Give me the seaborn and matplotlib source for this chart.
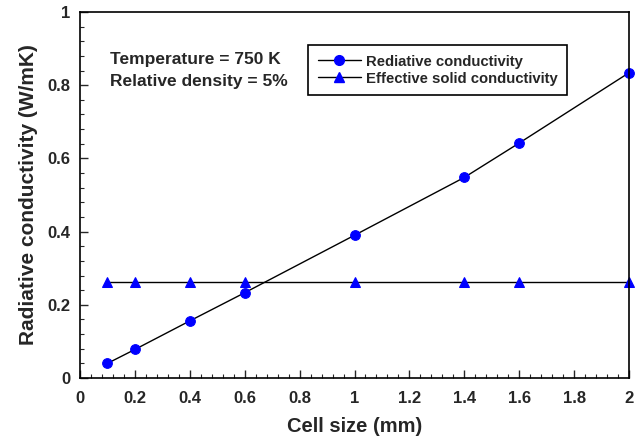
import matplotlib
matplotlib.use("Agg")
import matplotlib.pyplot as plt
import seaborn as sns
import pandas as pd
from matplotlib.ticker import MultipleLocator
from matplotlib.lines import Line2D

cell_size = [0.1, 0.2, 0.4, 0.6, 1.0, 1.4, 1.6, 2.0]
radiative = [0.040, 0.078, 0.156, 0.233, 0.390, 0.548, 0.642, 0.834]
solid = [0.262, 0.262, 0.262, 0.262, 0.262, 0.262, 0.262, 0.262]
series_names = ["Rediative conductivity", "Effective solid conductivity"]
x_ticks = [0, 0.2, 0.4, 0.6, 0.8, 1, 1.2, 1.4, 1.6, 1.8, 2]
x_ticklabels = ["0", "0.2", "0.4", "0.6", "0.8", "1", "1.2", "1.4", "1.6", "1.8", "2"]
y_ticks = [0, 0.2, 0.4, 0.6, 0.8, 1]
y_ticklabels = ["0", "0.2", "0.4", "0.6", "0.8", "1"]

sns.set_style("ticks")
plt.rcParams['font.family'] = ['Liberation Sans', 'DejaVu Sans']
plt.rcParams['font.weight'] = 'bold'

df = pd.DataFrame({
    "x": cell_size * 2,
    "y": radiative + solid,
    "s": [series_names[0]] * len(cell_size) + [series_names[1]] * len(cell_size),
})

fig = plt.figure(figsize=(6.38, 4.4), dpi=100)
ax = fig.add_axes([0.1254, 0.1409, 0.8605, 0.8318])

sns.lineplot(data=df, x="x", y="y", hue="s", style="s",
             palette=["black", "black"], dashes=False,
             markers=["o", "^"], markersize=7, linewidth=1,
             markerfacecolor="#0000ff", markeredgecolor="#0000ff",
             ax=ax, legend=False)
for ln in ax.lines:
    ln.set_clip_on(False)

handles = [Line2D([], [], color="black", lw=1, marker="o", ms=7, mfc="#0000ff", mec="#0000ff"),
           Line2D([], [], color="black", lw=1, marker="^", ms=7, mfc="#0000ff", mec="#0000ff")]
leg = ax.legend(handles, series_names, loc="upper left", bbox_to_anchor=(0.4155, 0.91),
                frameon=True, fancybox=False, edgecolor="black", framealpha=1,
                prop={'weight': 'bold', 'size': 10.7}, handlelength=2.9,
                borderpad=0.65, labelspacing=0.2, handletextpad=0.35, borderaxespad=0)
leg.get_frame().set_linewidth(1.2)

ax.set_xlim(0, 2)
ax.set_ylim(0, 1)
ax.set_xticks(x_ticks)
ax.set_xticklabels(x_ticklabels)
ax.set_yticks(y_ticks)
ax.set_yticklabels(y_ticklabels)
ax.xaxis.set_minor_locator(MultipleLocator(0.04))
ax.yaxis.set_minor_locator(MultipleLocator(0.04))
ax.tick_params(axis="both", which="major", direction="in", length=6, width=1,
               labelsize=12, top=False, right=False)
ax.tick_params(axis="x", which="major", pad=9)
ax.tick_params(axis="y", which="major", pad=7)
ax.tick_params(axis="both", which="minor", direction="in", length=3, width=0.8,
               top=False, right=False)
for lab in ax.get_xticklabels() + ax.get_yticklabels():
    lab.set_fontweight("bold")
for sp in ax.spines.values():
    sp.set_visible(True)
    sp.set_linewidth(1.2)
    sp.set_color("black")

ax.set_xlabel("Cell size (mm)", fontsize=14.5, fontweight="bold", labelpad=8)
ax.set_ylabel("Radiative conductivity (W/mK)", fontsize=15, fontweight="bold", labelpad=7)

ax.text(0.055, 0.89, "Temperature = 750 K\nRelative density = 5%", transform=ax.transAxes,
        fontsize=12.5, fontweight="bold", va="top", ha="left", linespacing=1.55)

fig.savefig("out.png", dpi=100)
